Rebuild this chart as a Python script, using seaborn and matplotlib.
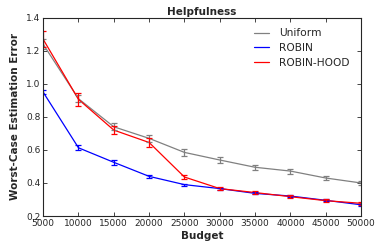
import pandas as pd
import matplotlib
matplotlib.use("Agg")
import matplotlib.pyplot as plt
import seaborn as sns

budgets = [5000, 10000, 15000, 20000, 25000, 30000, 35000, 40000, 45000, 50000]
uniform = [1.24, 0.91, 0.74, 0.67, 0.585, 0.539, 0.495, 0.472, 0.43, 0.40]
uniform_err = [0.03, 0.02, 0.02, 0.02, 0.02, 0.018, 0.015, 0.015, 0.013, 0.01]
robin = [0.95, 0.613, 0.525, 0.44, 0.39, 0.366, 0.337, 0.321, 0.295, 0.268]
robin_err = [0.01, 0.015, 0.015, 0.01, 0.006, 0.006, 0.006, 0.006, 0.006, 0.006]
hood = [1.27, 0.906, 0.72, 0.645, 0.436, 0.366, 0.342, 0.317, 0.293, 0.277]
hood_err = [0.05, 0.04, 0.025, 0.025, 0.01, 0.008, 0.008, 0.008, 0.008, 0.008]

series = [("Uniform", uniform, uniform_err, "gray"),
          ("ROBIN", robin, robin_err, "blue"),
          ("ROBIN-HOOD", hood, hood_err, "red")]

rows = []
for name, vals, errs, _ in series:
    for b, v, e in zip(budgets, vals, errs):
        rows.append({"Budget": b, "err": v, "sd": e, "method": name})
df = pd.DataFrame(rows)

sns.set_style("ticks")
plt.rcParams['font.family'] = ['DejaVu Sans']

fig = plt.figure(figsize=(3.75, 2.43), dpi=100)
ax = fig.add_axes([0.115, 0.111, 0.848, 0.816])

palette = {name: c for name, _, _, c in series}
sns.lineplot(data=df, x="Budget", y="err", hue="method", palette=palette,
             errorbar=None, linewidth=0.9, ax=ax)
for name, vals, errs, c in series:
    ax.errorbar(budgets, vals, yerr=errs, fmt="none", ecolor=c,
                elinewidth=0.9, capsize=2, capthick=0.9)

ax.set_xlim(5000, 50000)
ax.set_ylim(0.2, 1.4)
ax.set_xticks(budgets)
ax.set_yticks([0.2, 0.4, 0.6, 0.8, 1.0, 1.2, 1.4])
ax.tick_params(direction="in", top=True, right=True, labelsize=6.5,
               length=3, width=0.6, pad=2)
for s in ax.spines.values():
    s.set_linewidth(0.8)

ax.set_title("Helpfulness", fontsize=7.5, fontweight="bold", pad=2)
ax.set_xlabel("Budget", fontsize=7.5, fontweight="bold", labelpad=2)
ax.set_ylabel("Worst-Case Estimation Error", fontsize=7.5, fontweight="bold",
              labelpad=4)

leg = ax.legend(frameon=False, fontsize=7.7, handlelength=1.4,
                handletextpad=1.0, loc="upper right",
                bbox_to_anchor=(0.995, 0.995), labelspacing=0.45)
leg.set_title(None)

fig.savefig("out.png", dpi=100)
